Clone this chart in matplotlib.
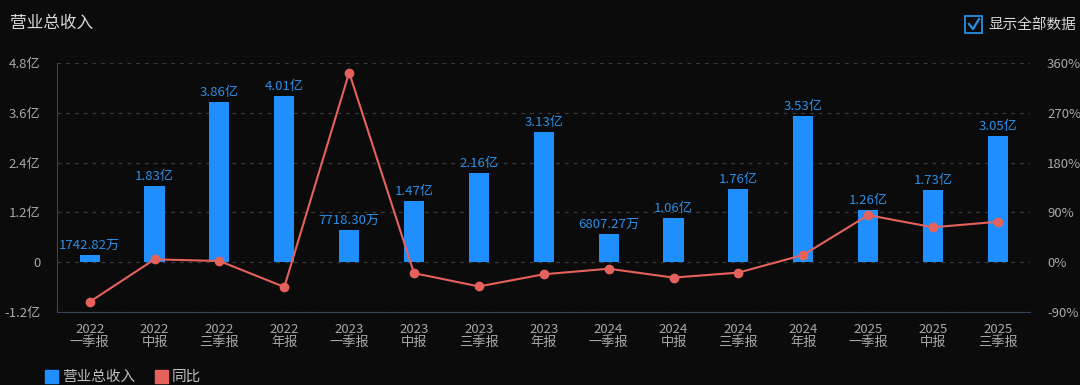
import numpy as np
import matplotlib.pyplot as plt
from matplotlib.patches import Rectangle

plt.rcParams['font.family'] = ['Noto Sans CJK SC', 'DejaVu Sans']

periods = ['2022\n一季报', '2022\n中报', '2022\n三季报', '2022\n年报',
           '2023\n一季报', '2023\n中报', '2023\n三季报', '2023\n年报',
           '2024\n一季报', '2024\n中报', '2024\n三季报', '2024\n年报',
           '2025\n一季报', '2025\n中报', '2025\n三季报']
revenue = [0.174282, 1.83, 3.86, 4.01, 0.771830, 1.47, 2.16, 3.13,
           0.680727, 1.06, 1.76, 3.53, 1.26, 1.73, 3.05]  # 亿
bar_labels = ['1742.82万', '1.83亿', '3.86亿', '4.01亿', '7718.30万', '1.47亿',
              '2.16亿', '3.13亿', '6807.27万', '1.06亿', '1.76亿', '3.53亿',
              '1.26亿', '1.73亿', '3.05亿']
yoy = [-72, 5, 2, -45, 343, -20, -44, -22, -12, -28, -19, 13, 85, 63, 73]  # %

left_ticks = [-1.2, 0, 1.2, 2.4, 3.6, 4.8]
left_labels = ['-1.2亿', '0', '1.2亿', '2.4亿', '3.6亿', '4.8亿']
right_ticks = [-90, 0, 90, 180, 270, 360]

bg = '#0b0b0b'
blue = '#1f8fff'
red = '#e5625c'
tick_c = '#a8a8a8'

fig = plt.figure(figsize=(10.8, 3.85), dpi=100, facecolor=bg)
ax = fig.add_axes([0.053, 0.19, 0.901, 0.646], facecolor=bg)
x = np.arange(len(periods))

ax.bar(x, revenue, width=0.31, color=blue, zorder=2)
for i, (v, t) in enumerate(zip(revenue, bar_labels)):
    ax.text(i, v + 0.07, t, color='#2b8fe6', fontsize=9.5, ha='center', va='bottom', zorder=4)

ax.set_xlim(-0.5, len(periods) - 0.5)
ax.set_ylim(-1.2, 4.8)
ax.set_yticks(left_ticks)
ax.set_yticklabels(left_labels)
ax.set_xticks(x)
ax.set_xticklabels(periods, linespacing=0.95)
ax.tick_params(axis='both', colors=tick_c, labelsize=9.5, length=0)
ax.tick_params(axis='x', pad=8)
ax.tick_params(axis='y', pad=12)
for t in ax.get_yticklabels():
    t.set_color(tick_c)
ax.grid(axis='y', color='#3a3a3a', linestyle=(0, (3, 4)), linewidth=0.9, zorder=0)
for s in ['top', 'right']:
    ax.spines[s].set_visible(False)
ax.spines['left'].set_color('#34465a')
ax.spines['bottom'].set_color('#34465a')

ax2 = ax.twinx()
ax2.plot(x, yoy, color=red, linewidth=1.5, marker='o', markersize=6, zorder=3)
ax2.set_ylim(-90, 360)
ax2.set_yticks(right_ticks)
ax2.set_yticklabels([f'{v}%' for v in right_ticks])
ax2.tick_params(axis='y', colors=tick_c, labelsize=9.5, length=0, pad=12)
for s in ax2.spines.values():
    s.set_visible(False)

fig.text(0.009, 0.94, '营业总收入', color='#d8d8d8', fontsize=12, ha='left', va='center')

# checkbox
fig.patches.append(Rectangle((965 / 1080, 1 - 33 / 385), 17 / 1080, 17 / 385,
                             transform=fig.transFigure, fill=False, edgecolor='#2a8fe0', linewidth=1.3))
fig.lines.append(plt.Line2D([969 / 1080, 973 / 1080, 979 / 1080],
                            [1 - 24 / 385, 1 - 29 / 385, 1 - 19 / 385],
                            transform=fig.transFigure, color='#2a8fe0', linewidth=1.6))
fig.text(988 / 1080, 1 - 25 / 385, '显示全部数据', color='#d8d8d8', fontsize=10.5, ha='left', va='center')

# legend
fig.patches.append(Rectangle((45 / 1080, 1 - 383 / 385), 13 / 1080, 13 / 385,
                             transform=fig.transFigure, color=blue))
fig.text(62 / 1080, 1 - 377 / 385, '营业总收入', color='#c0c0c0', fontsize=10.5, ha='left', va='center')
fig.patches.append(Rectangle((155 / 1080, 1 - 383 / 385), 13 / 1080, 13 / 385,
                             transform=fig.transFigure, color=red))
fig.text(172 / 1080, 1 - 377 / 385, '同比', color='#c0c0c0', fontsize=10.5, ha='left', va='center')

fig.savefig('out.png', dpi=100, facecolor=bg)
